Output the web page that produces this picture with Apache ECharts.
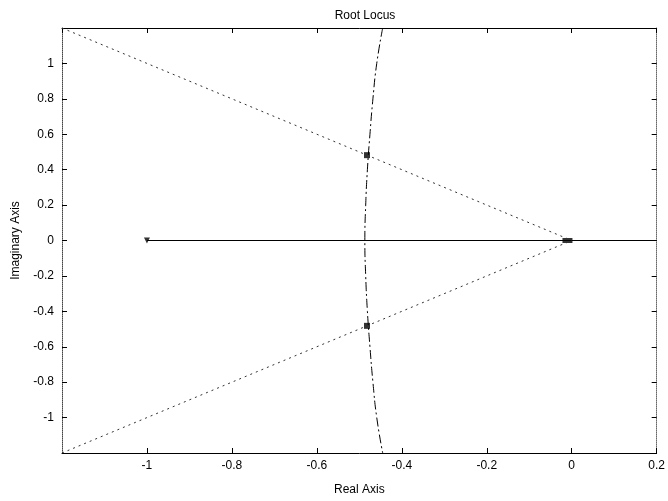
<!DOCTYPE html>
<html>
<head>
<meta charset="utf-8">
<script src="https://cdn.jsdelivr.net/npm/echarts@6/dist/echarts.min.js"></script>
<style>html,body{margin:0;padding:0;background:#fff}#c{width:668px;height:501px}</style>
</head>
<body>
<div id="c"></div>
<script>
// Data
const realLocusX = [-1, 0.2];
const realLocusY = [0, 0];
const dampUpperX = [-1.2, 0];
const dampUpperY = [1.2, 0];
const dampLowerX = [-1.2, 0];
const dampLowerY = [-1.2, 0];
const curveY = [1.2, 1.0, 0.8, 0.6, 0.4, 0.2, 0, -0.2, -0.4, -0.6, -0.8, -1.0, -1.2];
const curveX = [-0.445, -0.459, -0.468, -0.475, -0.481, -0.485, -0.487, -0.485, -0.481, -0.475, -0.468, -0.459, -0.445];
const clPolesX = [-0.482, -0.482];
const clPolesY = [0.482, -0.482];
const originPoleX = [-0.01];
const originPoleY = [0];
const openPoleX = [-1];
const openPoleY = [0];

const zip = (xs, ys) => xs.map((x, i) => [x, ys[i]]);
const font = 'Liberation Sans, Arial, sans-serif';

const chart = echarts.init(document.getElementById('c'), null, {renderer: 'canvas'});
const baseX = {
  type: 'value', min: -1.2, max: 0.2, interval: 0.2,
  splitLine: {show: false},
  axisLine: {show: true, onZero: false, lineStyle: {color: '#000', width: 1}},
  axisTick: {show: true, inside: true, length: 5, lineStyle: {color: '#000'}}
};
const baseY = {
  type: 'value', min: -1.2, max: 1.2, interval: 0.2,
  splitLine: {show: false},
  axisLine: {show: true, onZero: false, lineStyle: {color: '#000', width: 1}},
  axisTick: {show: true, inside: true, length: 5, lineStyle: {color: '#000'}}
};
chart.setOption({
  animation: false,
  backgroundColor: '#fff',
  title: {
    text: 'Root Locus', left: 360, top: 5, textAlign: 'center',
    textStyle: {fontFamily: font, fontSize: 12, fontWeight: 'normal', color: '#000'}
  },
  grid: {left: 62, right: 11, top: 28, bottom: 47},
  xAxis: [
    Object.assign({}, baseX, {
      position: 'bottom',
      name: 'Real Axis', nameLocation: 'middle', nameGap: 31,
      nameTextStyle: {fontFamily: font, fontSize: 12, color: '#000'},
      axisLabel: {showMinLabel: false, showMaxLabel: true, margin: 7,
        fontFamily: font, fontSize: 12, color: '#000',
        formatter: v => String(Math.round(v * 10) / 10)}
    }),
    Object.assign({}, baseX, {position: 'top', axisLabel: {show: false}})
  ],
  yAxis: [
    Object.assign({}, baseY, {
      position: 'left',
      axisLine: {show: true, onZero: false, lineStyle: {color: '#444', width: 1, type: 'dotted'}},
      name: 'Imaginary Axis', nameLocation: 'middle', nameGap: 40, nameRotate: 90,
      nameTextStyle: {fontFamily: font, fontSize: 12, color: '#000'},
      axisLabel: {showMinLabel: false, showMaxLabel: false, margin: 8,
        fontFamily: font, fontSize: 12, color: '#000',
        formatter: v => String(Math.round(v * 10) / 10)}
    }),
    Object.assign({}, baseY, {
      position: 'right',
      axisLine: {show: true, onZero: false, lineStyle: {color: '#666', width: 1, type: 'dotted'}},
      axisLabel: {show: false}
    })
  ],
  series: [
    {type: 'line', data: zip(realLocusX, realLocusY), symbol: 'none',
      lineStyle: {color: '#000', width: 1.2}},
    {type: 'line', data: zip(dampUpperX, dampUpperY), symbol: 'none',
      lineStyle: {color: '#333', width: 1, type: [2, 4]}},
    {type: 'line', data: zip(dampLowerX, dampLowerY), symbol: 'none',
      lineStyle: {color: '#333', width: 1, type: [2, 4]}},
    {type: 'line', data: zip(curveX, curveY), symbol: 'none', smooth: true,
      lineStyle: {color: '#000', width: 1, type: [9, 3, 2, 3]}},
    {type: 'scatter', data: zip(clPolesX, clPolesY), symbol: 'rect', symbolSize: 6,
      itemStyle: {color: '#000'}},
    {type: 'scatter', data: zip(originPoleX, originPoleY), symbol: 'rect', symbolSize: [10, 5],
      itemStyle: {color: '#000'}},
    {type: 'scatter', data: zip(openPoleX, openPoleY), symbol: 'triangle', symbolRotate: 180,
      symbolSize: 6, itemStyle: {color: '#000'}}
  ]
});
</script>
</body>
</html>
